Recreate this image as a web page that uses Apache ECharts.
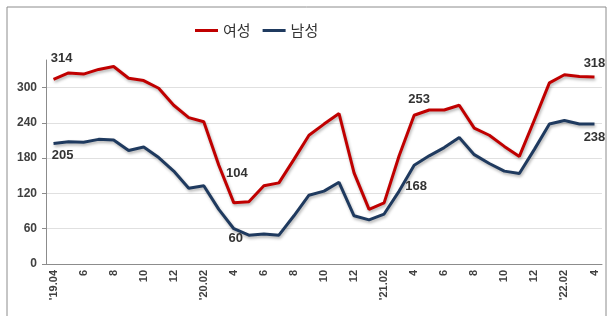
<!DOCTYPE html>
<html>
<head>
<meta charset="utf-8">
<script src="https://cdn.jsdelivr.net/npm/echarts@6/dist/echarts.min.js"></script>
<style>
  html, body { margin: 0; padding: 0; background: #fff; }
  #chart { width: 612px; height: 316px; }
</style>
</head>
<body>
<div id="chart"></div>
<script>
  // 월별 (19.04 ~ 22.04), 축에는 2개월마다 표시
  var months = ["'19.04", '5', '6', '7', '8', '9', '10', '11', '12', '1',
    "'20.02", '3', '4', '5', '6', '7', '8', '9', '10', '11', '12', '1',
    "'21.02", '3', '4', '5', '6', '7', '8', '9', '10', '11', '12', '1',
    "'22.02", '3', '4'];

  var female = [314, 325, 323, 331, 336, 316, 312, 299, 270, 249, 242, 168, 104,
    106, 133, 138, 178, 219, 238, 256, 155, 93, 104, 184, 253, 262, 262, 270,
    231, 219, 200, 183, 245, 308, 322, 319, 318];
  var male = [205, 208, 207, 212, 211, 193, 199, 181, 158, 129, 133, 93, 60,
    49, 51, 49, 82, 117, 124, 139, 82, 75, 85, 124, 168, 184, 198, 215,
    186, 171, 158, 154, 195, 238, 244, 238, 238];

  // 값 표시할 위치: 인덱스 -> [position, distance, offsetX]
  var femaleLabels = { 0: ['top', 14, 8], 12: ['top', 23, 3], 24: ['top', 9, 5], 36: ['top', 7, 0] };
  var maleLabels = { 0: ['bottom', 5, 9], 12: ['bottom', 3, 2], 24: ['bottom', 15, 2], 36: ['bottom', 7, 0] };

  function buildData(values, labels) {
    return values.map(function (v, i) {
      var l = labels[i];
      if (!l) return v;
      return {
        value: v,
        label: {
          show: true,
          position: l[0],
          distance: l[1],
          offset: [l[2], 0],
          color: '#333',
          fontSize: 13,
          fontWeight: 'bold',
          fontFamily: 'Liberation Sans'
        }
      };
    });
  }

  var lineShadow = {
    width: 3,
    shadowColor: 'rgba(0,0,0,0.3)',
    shadowBlur: 3,
    shadowOffsetX: 1,
    shadowOffsetY: 2
  };

  var chart = echarts.init(document.getElementById('chart'));
  var option = {
    animation: false,
    backgroundColor: '#fff',
    graphic: [{
      type: 'rect',
      shape: { x: 7, y: 7, width: 599, height: 320 },
      style: { fill: 'none', stroke: '#8c8c8c', lineWidth: 1 },
      silent: true
    }],
    legend: {
      top: 18,
      left: 190,
      icon: 'rect',
      itemWidth: 23,
      itemHeight: 3,
      itemGap: 12,
      textStyle: { fontFamily: 'Noto Sans CJK KR', fontSize: 15, color: '#333' },
      data: ['여성', '남성']
    },
    grid: { left: 46, right: 10, top: 60, bottom: 52 },
    xAxis: {
      type: 'category',
      data: months,
      boundaryGap: true,
      axisLine: { lineStyle: { color: '#8c8c8c' } },
      axisTick: { interval: 0, length: 4, lineStyle: { color: '#8c8c8c' } },
      axisLabel: {
        interval: 1,
        rotate: 90,
        margin: 6,
        fontSize: 11,
        fontWeight: 'bold',
        fontFamily: 'Liberation Sans',
        color: '#404040'
      }
    },
    yAxis: {
      type: 'value',
      min: 0,
      max: 347,
      interval: 60,
      axisLine: { show: true, lineStyle: { color: '#8c8c8c' } },
      axisTick: { show: true, length: 4, lineStyle: { color: '#8c8c8c' } },
      axisLabel: {
        showMaxLabel: false,
        margin: 9,
        fontSize: 12,
        fontWeight: 'bold',
        fontFamily: 'Liberation Sans',
        color: '#404040'
      },
      splitLine: { showMaxLine: false, lineStyle: { color: '#e0e0e0' } }
    },
    series: [{
      name: '여성',
      type: 'line',
      data: buildData(female, femaleLabels),
      symbol: 'circle',
      symbolSize: 0,
      color: '#c00000',
      lineStyle: Object.assign({ color: '#c00000' }, lineShadow)
    }, {
      name: '남성',
      type: 'line',
      data: buildData(male, maleLabels),
      symbol: 'circle',
      symbolSize: 0,
      color: '#1f3a5f',
      lineStyle: Object.assign({ color: '#1f3a5f' }, lineShadow)
    }]
  };
  chart.setOption(option);
</script>
</body>
</html>
